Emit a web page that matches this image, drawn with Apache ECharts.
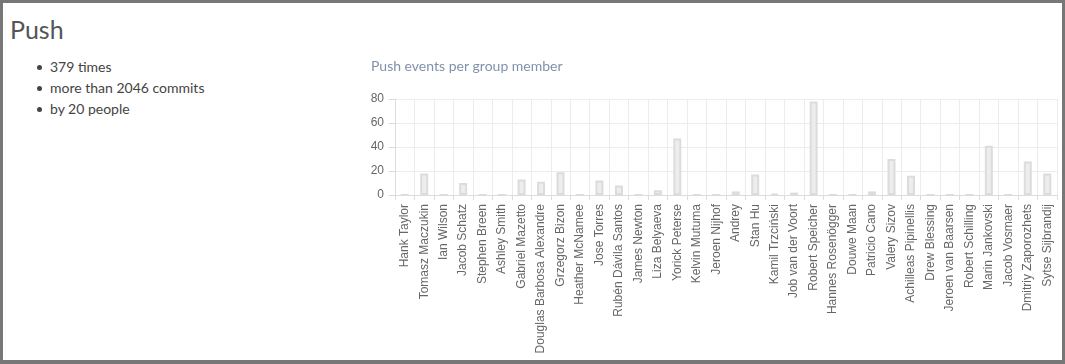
<!DOCTYPE html>
<html>
<head>
<meta charset="utf-8">
<script src="https://cdn.jsdelivr.net/npm/echarts@6/dist/echarts.min.js"></script>
<style>
  html, body { margin: 0; padding: 0; background: #fff; }
  #frame { position: absolute; left: 0; top: 0; width: 1065px; height: 364px; box-sizing: border-box; border: 3px solid #777; border-bottom-width: 4px; }
  #heading { position: absolute; left: 10px; top: 14px; font-family: Lato, sans-serif; font-size: 25px; color: #555; }
  .item { position: absolute; left: 50px; font-family: Lato, sans-serif; font-size: 14px; color: #444; line-height: 20px; }
  .item::before { content: ""; position: absolute; left: -13px; top: 8px; width: 5px; height: 5px; border-radius: 50%; background: #444; }
  #chart { position: absolute; left: 0; top: 0; width: 1065px; height: 364px; }
</style>
</head>
<body>
<div id="frame"></div>
<div id="heading">Push</div>
<div class="item" style="top:57px">379 times</div>
<div class="item" style="top:78px">more than 2046 commits</div>
<div class="item" style="top:99px">by 20 people</div>
<div id="chart"></div>
<script>
const members = [
  "Hank Taylor", "Tomasz Maczukin", "Ian Wilson", "Jacob Schatz", "Stephen Breen",
  "Ashley Smith", "Gabriel Mazetto", "Douglas Barbosa Alexandre", "Grzegorz Bizon",
  "Heather McNamee", "Jose Torres", "Rubén Dávila Santos", "James Newton",
  "Liza Belyaeva", "Yorick Peterse", "Kelvin Mutuma", "Jeroen Nijhof", "Andrey",
  "Stan Hu", "Kamil Trzciński", "Job van der Voort", "Robert Speicher",
  "Hannes Rosenögger", "Douwe Maan", "Patricio Cano", "Valery Sizov",
  "Achilleas Pipinellis", "Drew Blessing", "Jeroen van Baarsen", "Robert Schilling",
  "Marin Jankovski", "Jacob Vosmaer", "Dmitriy Zaporozhets", "Sytse Sijbrandij"
];
const pushEvents = [
  0, 18, 0, 10, 0,
  0, 13, 11, 19,
  0, 12, 8, 0,
  4, 47, 0, 0, 3,
  17, 1, 2, 78,
  0, 0, 3, 30,
  16, 0, 0, 0,
  41, 0, 28, 18
];
const yTicks = { min: 0, max: 80, interval: 20 };

const chart = echarts.init(document.getElementById('chart'), null, { renderer: 'canvas' });
const labelFont = '"Liberation Sans", Arial, sans-serif';
chart.setOption({
  animation: false,
  title: {
    text: 'Push events per group member',
    left: 366, top: 54,
    textStyle: { fontFamily: 'Lato, sans-serif', fontSize: 14, fontWeight: 'normal', color: '#8091aa' }
  },
  grid: { left: 395, right: 8, top: 99, bottom: 169, containLabel: false },
  xAxis: {
    type: 'category',
    data: members,
    boundaryGap: true,
    axisLine: { show: true, lineStyle: { color: '#dcdcdc', width: 1 } },
    axisTick: { show: true, length: 5, interval: 0, lineStyle: { color: '#dcdcdc' } },
    splitLine: { show: true, interval: 0, lineStyle: { color: '#ececec', width: 1 } },
    axisLabel: { interval: 0, rotate: 90, margin: 9, fontSize: 12, color: '#666', fontFamily: labelFont }
  },
  yAxis: {
    type: 'value',
    min: yTicks.min, max: yTicks.max, interval: yTicks.interval,
    axisLine: { show: true, lineStyle: { color: '#dcdcdc', width: 1 } },
    axisTick: { show: true, length: 6, lineStyle: { color: '#dcdcdc' } },
    splitLine: { show: true, lineStyle: { color: '#ececec', width: 1 } },
    axisLabel: { margin: 11, fontSize: 12, color: '#666', fontFamily: labelFont }
  },
  series: [{
    type: 'bar',
    data: pushEvents,
    barWidth: 8,
    itemStyle: { color: '#ededed', borderColor: '#dcdcdc', borderWidth: 2 }
  }]
});
</script>
</body>
</html>
